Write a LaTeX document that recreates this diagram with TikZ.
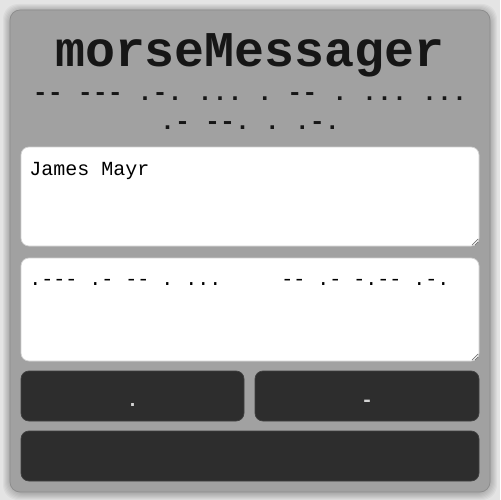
\documentclass[tikz,border=0pt]{standalone}
\usepackage{fontspec}
\setmonofont{Liberation Mono}
\definecolor{pagebg}{HTML}{E4E4E4}
\definecolor{panelgray}{HTML}{A1A1A1}
\definecolor{paneledge}{HTML}{8C8C8C}
\definecolor{btndark}{HTML}{2D2D2D}
\definecolor{btntext}{HTML}{D4D4D4}
\definecolor{inktext}{HTML}{161616}
\begin{document}
\begin{tikzpicture}[x=0.02cm,y=-0.02cm,
    textarea/.style={fill=white,draw=black!18,rounded corners=0.16cm},
    keybox/.style={fill=btndark,draw=black!75,rounded corners=0.16cm},
    headline/.style={inner sep=0pt,anchor=base,text=inktext,
      font=\ttfamily\bfseries\fontsize{28.45}{34}\selectfont},
    subline/.style={inner sep=0pt,anchor=base,text=inktext,
      font=\ttfamily\bfseries\fontsize{14.2}{17}\selectfont},
    entry/.style={inner sep=0pt,anchor=base west,text=black,
      font=\ttfamily\fontsize{11.38}{14}\selectfont},
    keylabel/.style={inner sep=0pt,anchor=base,text=btntext,
      font=\ttfamily\bfseries\fontsize{11.38}{14}\selectfont}]
    \fill[pagebg] (0,0) rectangle (500,500);
    % soft shadow round the panel
    \foreach \i in {1,...,7}
      \fill[black,opacity=0.035,rounded corners=0.3cm]
        (10-\i,11-\i) rectangle (490+\i,493+\i);
    \filldraw[fill=panelgray,draw=paneledge,rounded corners=0.2cm] (10,10) rectangle (490,492);

    \node[headline] (title) at (250,67) {morseMessager};
    \node[subline] (code1) at (250,101) {-- --- .-. ... . -- . ... ...};
    \node[subline] (code2) at (250,130) {.- --. . .-.};

    \filldraw[textarea] (21,147) rectangle (479,246);
    \node[entry] (plain) at (29,175) {James Mayr};
    \filldraw[textarea] (21,258) rectangle (479,361);
    \node[entry] (morse) at (29,285) {.--- .- -- . ...\ \ \ \ \ -- .- -.-- .-.};
    % resize grips
    \draw[black!55,thin] (472,245) -- (478,239) (475,245) -- (478,242);
    \draw[black!55,thin] (472,360) -- (478,354) (475,360) -- (478,357);

    \filldraw[keybox] (21,371) rectangle (244,421);
    \node[keylabel] (dot) at (132.5,406) {.};
    \filldraw[keybox] (255,371) rectangle (479,421);
    \node[keylabel] (dash) at (367,406) {-};
    \filldraw[keybox] (21,431) rectangle (479,481);
\end{tikzpicture}
\end{document}
